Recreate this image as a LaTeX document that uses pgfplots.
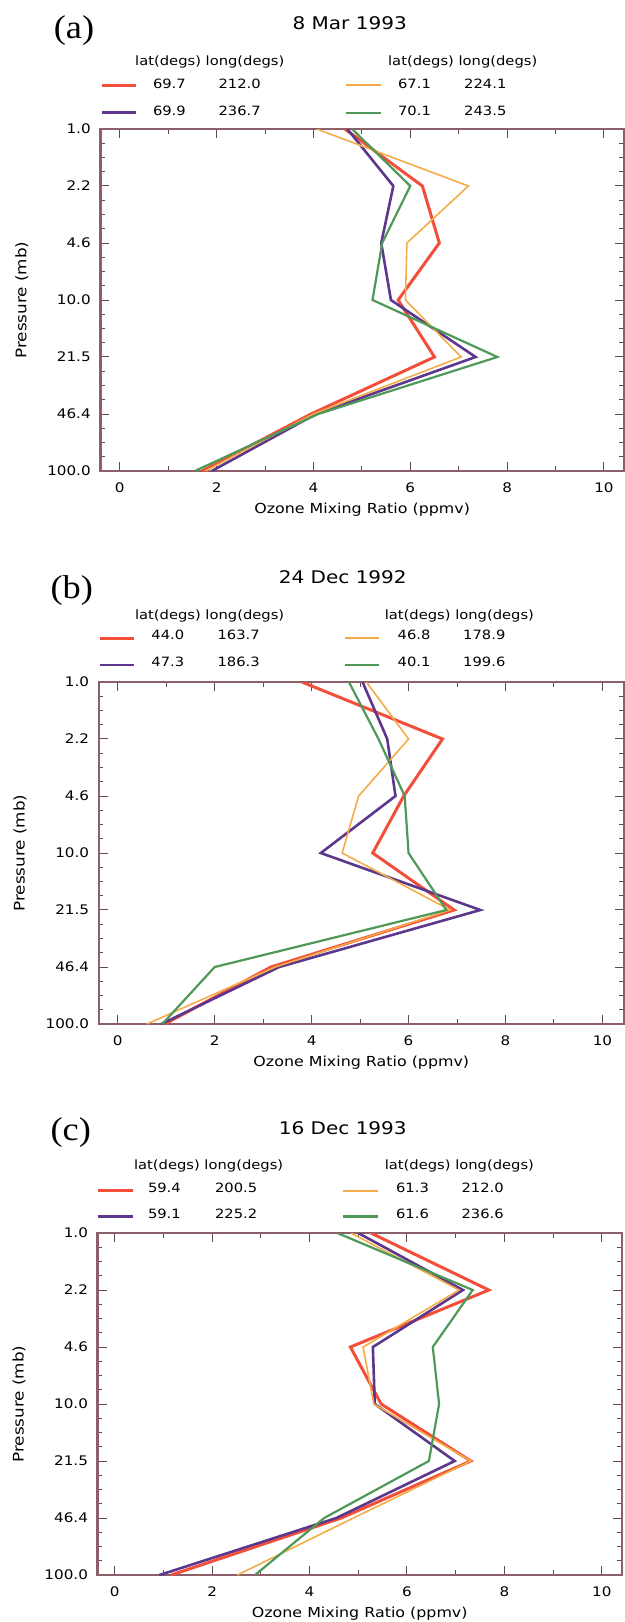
\documentclass[border=0pt]{standalone}
\usepackage{fontspec}
\setmainfont[FakeStretch=1.15]{DejaVu Sans}
\newfontfamily\labfont[FakeStretch=1.1]{Liberation Serif}
\usepackage{pgfplots}
\pgfplotsset{compat=1.18}
\definecolor{cred}{RGB}{242,78,58}
\definecolor{cpur}{RGB}{92,55,140}
\definecolor{cora}{RGB}{244,172,72}
\definecolor{cgrn}{RGB}{78,152,88}
\definecolor{cframe}{RGB}{140,95,105}
\definecolor{ctick}{RGB}{95,75,80}
\newcommand{\tickf}{\fontsize{6.6}{7}\selectfont}
\newcommand{\legf}{\fontsize{6.4}{7}\selectfont}
\newcommand{\titf}{\fontsize{8.7}{10}\selectfont}
\newcommand{\labf}{\fontsize{16.5}{18}\selectfont\labfont}
\tikzset{
  rd/.style={cred, line width=1.5pt},
  pu/.style={cpur, line width=1.3pt},
  og/.style={cora, line width=0.8pt},
  gn/.style={cgrn, line width=1.1pt},
}
\pgfplotsset{
  ozone/.style={
    scale only axis, height=171pt, anchor=south west,
    ymin=1, ymax=100,
    xtick={0,2,4,6,8,10}, minor xtick={1,3,5,7,9},
    ytick={1,2.154,4.642,10,21.54,46.42,100},
    yticklabels={1.0,2.2,4.6,10.0,21.5,46.4,100.0},
    minor ytick={1.2115,1.4678,1.7783,2.6102,3.1623,3.8312,5.6234,6.8129,8.2540,12.115,14.678,17.783,26.102,31.623,38.312,56.234,68.129,82.540},
    tick align=inside, major tick length=4.5pt, minor tick length=2.3pt,
    every tick/.style={ctick, line width=0.5pt},
    axis line style={cframe, line width=1.3pt},
    tick label style={font=\tickf},
    xticklabel style={yshift=-2.5pt},
    yticklabel style={xshift=-1.3pt},
    /pgf/number format/assume math mode=true,
    xlabel={Ozone Mixing Ratio (ppmv)}, ylabel={Pressure (mb)},
    xlabel style={font=\fontsize{6.9}{8}\selectfont, at={(axis description cs:0.5,-0.1126)}, anchor=center},
    ylabel style={font=\fontsize{7.3}{8}\selectfont, at={(axis description cs:-0.15,0.5)}, anchor=center},
  },
}
\begin{document}
\begin{tikzpicture}
\useasboundingbox (0,0) rectangle (312.5pt,-811pt);
% ---------- (a)
\begin{axis}[ymode=log, y dir=reverse, ozone, at={(50.2pt,-235.5pt)}, width=261.7pt, xmin=-0.40, xmax=10.41]
\addplot[rd] coordinates {(4.65,1)(6.25,2.154)(6.6,4.642)(5.75,10)(6.5,21.54)(3.95,46.42)(1.7,100)};
\addplot[pu] coordinates {(4.7,1)(5.65,2.154)(5.4,4.642)(5.6,10)(7.35,21.54)(4.05,46.42)(1.9,100)};
\addplot[og] coordinates {(4.07,1)(7.2,2.154)(5.93,4.642)(5.9,10)(7.05,21.54)(4.0,46.42)(1.77,100)};
\addplot[gn] coordinates {(4.8,1)(6.0,2.154)(5.42,4.642)(5.22,10)(7.8,21.54)(4.1,46.42)(1.55,100)};
\end{axis}
% ---------- (b)
\begin{axis}[ymode=log, y dir=reverse, ozone, at={(49.4pt,-512pt)}, width=262.5pt, xmin=-0.39, xmax=10.44]
\addplot[rd] coordinates {(3.8,1)(6.7,2.154)(5.9,4.642)(5.26,10)(6.94,21.54)(3.16,46.42)(0.97,100)};
\addplot[pu] coordinates {(5.05,1)(5.56,2.154)(5.73,4.642)(4.19,10)(7.48,21.54)(3.33,46.42)(0.9,100)};
\addplot[og] coordinates {(5.13,1)(6.0,2.154)(4.97,4.642)(4.63,10)(6.86,21.54)(3.25,46.42)(0.6,100)};
\addplot[gn] coordinates {(4.77,1)(5.38,2.154)(5.92,4.642)(6.0,10)(6.78,21.54)(2.0,46.42)(0.92,100)};
\end{axis}
% ---------- (c)
\begin{axis}[ymode=log, y dir=reverse, ozone, at={(48.8pt,-787.5pt)}, width=262.1pt, xmin=-0.35, xmax=10.41]
\addplot[rd] coordinates {(5.26,1)(7.68,2.154)(4.84,4.642)(5.47,10)(7.31,21.54)(4.65,46.42)(1.16,100)};
\addplot[pu] coordinates {(5.0,1)(7.15,2.154)(5.3,4.642)(5.34,10)(6.98,21.54)(4.55,46.42)(0.92,100)};
\addplot[og] coordinates {(4.85,1)(7.07,2.154)(5.1,4.642)(5.32,10)(7.31,21.54)(4.9,46.42)(2.52,100)};
\addplot[gn] coordinates {(4.57,1)(7.35,2.154)(6.53,4.642)(6.66,10)(6.45,21.54)(4.3,46.42)(2.88,100)};
\end{axis}
% ---------- titles and legends
\begin{scope}[x=0.5pt,y=-0.5pt]
% (a)
\node[anchor=base, inner sep=0pt] at (74,38.4) {\labf (a)};
\node[anchor=base, inner sep=0pt] at (349.7,29.3) {\titf 8 Mar 1993};
\node[anchor=base, inner sep=0pt] at (209.8,65) {\legf lat(degs) long(degs)};
\node[anchor=base, inner sep=0pt] at (462.7,65) {\legf lat(degs) long(degs)};
\draw[rd] (101.6,85) -- (135.5,85);
\draw[pu] (101.6,112.7) -- (135.5,112.7);
\draw[og] (346,85) -- (380.6,85);
\draw[gn] (346,112.7) -- (380.6,112.7);
\node[anchor=base, inner sep=0pt] at (169.4,88) {\legf 69.7};
\node[anchor=base, inner sep=0pt] at (239.7,88) {\legf 212.0};
\node[anchor=base, inner sep=0pt] at (169.4,115.7) {\legf 69.9};
\node[anchor=base, inner sep=0pt] at (239.7,115.7) {\legf 236.7};
\node[anchor=base, inner sep=0pt] at (414.5,88) {\legf 67.1};
\node[anchor=base, inner sep=0pt] at (485.3,88) {\legf 224.1};
\node[anchor=base, inner sep=0pt] at (414.5,115.7) {\legf 70.1};
\node[anchor=base, inner sep=0pt] at (485.3,115.7) {\legf 243.5};
% (b)
\node[anchor=base, inner sep=0pt] at (71.7,598.4) {\labf (b)};
\node[anchor=base, inner sep=0pt] at (342.8,583.6) {\titf 24 Dec 1992};
\node[anchor=base, inner sep=0pt] at (209.6,619) {\legf lat(degs) long(degs)};
\node[anchor=base, inner sep=0pt] at (459.4,619) {\legf lat(degs) long(degs)};
\draw[rd] (99.6,638) -- (134.3,638);
\draw[pu] (99.6,665) -- (134.3,665);
\draw[og] (344.8,638) -- (378.6,638);
\draw[gn] (344.8,665) -- (378.6,665);
\node[anchor=base, inner sep=0pt] at (167.8,639.2) {\legf 44.0};
\node[anchor=base, inner sep=0pt] at (238.7,639.2) {\legf 163.7};
\node[anchor=base, inner sep=0pt] at (167.8,666.2) {\legf 47.3};
\node[anchor=base, inner sep=0pt] at (238.7,666.2) {\legf 186.3};
\node[anchor=base, inner sep=0pt] at (414.1,639.2) {\legf 46.8};
\node[anchor=base, inner sep=0pt] at (484.3,639.2) {\legf 178.9};
\node[anchor=base, inner sep=0pt] at (414.1,666.2) {\legf 40.1};
\node[anchor=base, inner sep=0pt] at (484.3,666.2) {\legf 199.6};
% (c)
\node[anchor=base, inner sep=0pt] at (70.7,1140.1) {\labf (c)};
\node[anchor=base, inner sep=0pt] at (342.8,1134.6) {\titf 16 Dec 1993};
\node[anchor=base, inner sep=0pt] at (208.6,1169) {\legf lat(degs) long(degs)};
\node[anchor=base, inner sep=0pt] at (459.4,1169) {\legf lat(degs) long(degs)};
\draw[rd] (97.6,1190.7) -- (132.7,1190.7);
\draw[pu] (97.6,1216.5) -- (132.7,1216.5);
\draw[og] (342.8,1190.7) -- (377.8,1190.7);
\draw[gn] (342.8,1216.5) -- (377.8,1216.5);
\node[anchor=base, inner sep=0pt] at (164.4,1192.4) {\legf 59.4};
\node[anchor=base, inner sep=0pt] at (236.1,1192.4) {\legf 200.5};
\node[anchor=base, inner sep=0pt] at (164.4,1218.7) {\legf 59.1};
\node[anchor=base, inner sep=0pt] at (236.1,1218.7) {\legf 225.2};
\node[anchor=base, inner sep=0pt] at (412.5,1192.4) {\legf 61.3};
\node[anchor=base, inner sep=0pt] at (482.7,1192.4) {\legf 212.0};
\node[anchor=base, inner sep=0pt] at (412.5,1218.7) {\legf 61.6};
\node[anchor=base, inner sep=0pt] at (482.7,1218.7) {\legf 236.6};
\end{scope}
\end{tikzpicture}
\end{document}
